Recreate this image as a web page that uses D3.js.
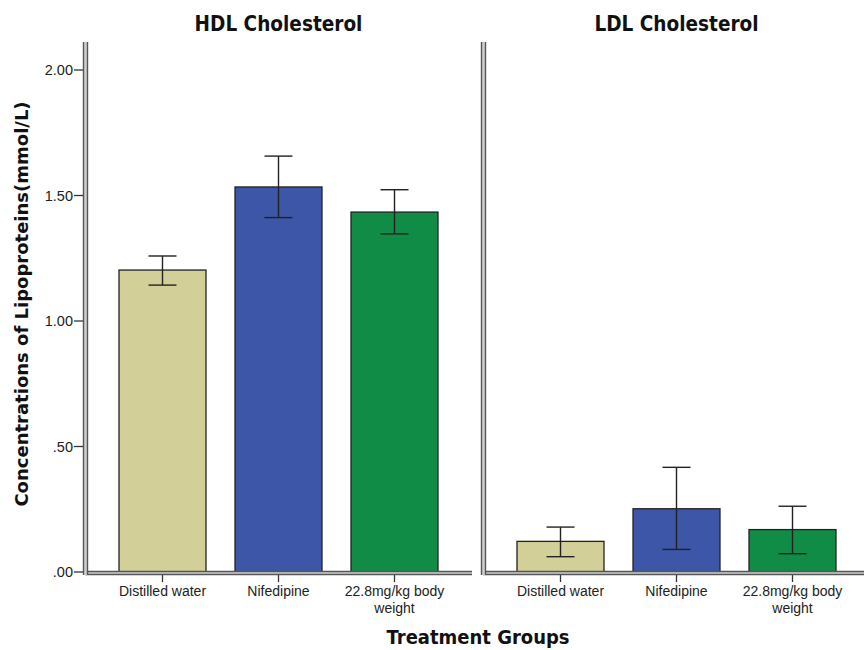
<!DOCTYPE html>
<html><head><meta charset="utf-8">
<script src="https://cdn.jsdelivr.net/npm/d3@7"></script>
<style>body{margin:0;background:#fff}svg{display:block}</style>
</head><body>
<script>
const panels = ["HDL Cholesterol", "LDL Cholesterol"];
const groups = ["Distilled water", "Nifedipine", "22.8mg/kg body weight"];
const groupLines = [["Distilled water"], ["Nifedipine"], ["22.8mg/kg body", "weight"]];
const means = [[1.203, 1.534, 1.434], [0.122, 0.252, 0.169]];
const errLow = [[1.143, 1.412, 1.347], [0.061, 0.090, 0.073]];
const errHigh = [[1.259, 1.657, 1.523], [0.179, 0.417, 0.262]];
const yTicks = [0, 0.5, 1.0, 1.5, 2.0];
const yTickLabels = [".00", ".50", "1.00", "1.50", "2.00"];
const colors = ["#d3cf98", "#3d56a8", "#108c47"];

const W = 864, H = 650;
const svg = d3.select("body").append("svg").attr("width", W).attr("height", H);
const plotTop = 42, plotBottom = 572;
const panelX = [[85, 472], [483, 870]];
const y = d3.scaleLinear().domain([0, 2.0]).range([plotBottom, 70]);
const font = "'DejaVu Sans', Verdana, sans-serif";
const tickFont = "Arial, 'Liberation Sans', sans-serif";

function label(x, yy, txt, opts) {
  return svg.append("text")
    .attr("transform", `translate(${x},${yy}) ${opts.rot ? "rotate(-90)" : ""} scale(1,${opts.sy || 1})`)
    .attr("text-anchor", opts.anchor || "middle")
    .attr("dy", opts.dy || null)
    .attr("font-family", opts.family).attr("font-size", opts.size)
    .attr("font-weight", opts.bold ? "bold" : null)
    .attr("fill", opts.fill || "#111").text(txt);
}

// y axis ticks/labels (left panel)
yTicks.forEach((t, i) => {
  svg.append("line").attr("x1", 74).attr("x2", 83).attr("y1", y(t)).attr("y2", y(t)).attr("stroke", "#333").attr("stroke-width", 1.3);
  label(73, y(t), yTickLabels[i], {anchor: "end", dy: "0.36em", family: tickFont, size: 14.5, fill: "#222"});
});

function doubleLineV(x, y1, y2) {
  svg.append("rect").attr("x", x - 2.5).attr("y", y1).attr("width", 5).attr("height", y2 - y1).attr("fill", "#cfcfcf");
  svg.append("line").attr("x1", x - 2).attr("x2", x - 2).attr("y1", y1).attr("y2", y2).attr("stroke", "#555").attr("stroke-width", 1.4);
  svg.append("line").attr("x1", x + 2).attr("x2", x + 2).attr("y1", y1).attr("y2", y2).attr("stroke", "#555").attr("stroke-width", 1.4);
}
function doubleLineH(x1, x2, yy) {
  svg.append("rect").attr("x", x1).attr("y", yy - 2).attr("width", x2 - x1).attr("height", 4).attr("fill", "#cfcfcf");
  svg.append("line").attr("x1", x1).attr("x2", x2).attr("y1", yy - 1.5).attr("y2", yy - 1.5).attr("stroke", "#555").attr("stroke-width", 1.3);
  svg.append("line").attr("x1", x1).attr("x2", x2).attr("y1", yy + 1.5).attr("y2", yy + 1.5).attr("stroke", "#555").attr("stroke-width", 1.3);
}

panels.forEach((name, p) => {
  const [x0, x1] = panelX[p];
  const x = d3.scaleBand().domain(groups).range([x0 + 19.5, x0 + 19.5 + 348]).paddingInner(0.25).paddingOuter(0.125);
  const g = svg.append("g");
  groups.forEach((grp, i) => {
    g.append("rect").attr("x", x(grp)).attr("y", y(means[p][i])).attr("width", x.bandwidth())
      .attr("height", y(0) - y(means[p][i])).attr("fill", colors[i]).attr("stroke", "#222").attr("stroke-width", 1.3);
  });
  groups.forEach((grp, i) => {
    const cx = x(grp) + x.bandwidth() / 2;
    g.append("line").attr("x1", cx).attr("x2", cx).attr("y1", y(errHigh[p][i])).attr("y2", y(errLow[p][i])).attr("stroke", "#222").attr("stroke-width", 1.4);
    [errHigh[p][i], errLow[p][i]].forEach(v => {
      g.append("line").attr("x1", cx - 14).attr("x2", cx + 14).attr("y1", y(v)).attr("y2", y(v)).attr("stroke", "#222").attr("stroke-width", 1.4);
    });
    g.append("line").attr("x1", cx).attr("x2", cx).attr("y1", plotBottom + 3).attr("y2", plotBottom + 10).attr("stroke", "#333").attr("stroke-width", 1.3);
    const t = svg.append("text").attr("text-anchor", "middle")
      .attr("font-family", tickFont).attr("font-size", 14).attr("fill", "#222");
    groupLines[i].forEach((ln, k) => {
      t.append("tspan").attr("x", cx).attr("y", 596 + k * 16.5).text(ln);
    });
  });
  doubleLineH(x0, Math.min(x1, W), plotBottom + 1);
  doubleLineV(x0 + 0.5, plotTop, plotBottom + 3);
  label(x0 + 193.5, 31, name, {family: font, size: 18.5, bold: true, sy: 1.15});
});

label(478, 644, "Treatment Groups", {family: font, size: 18, bold: true, sy: 1.1});
label(28, 304, "Concentrations of Lipoproteins(mmol/L)", {family: font, size: 18, bold: true, rot: true, sy: 1.0});
</script>
</body></html>
